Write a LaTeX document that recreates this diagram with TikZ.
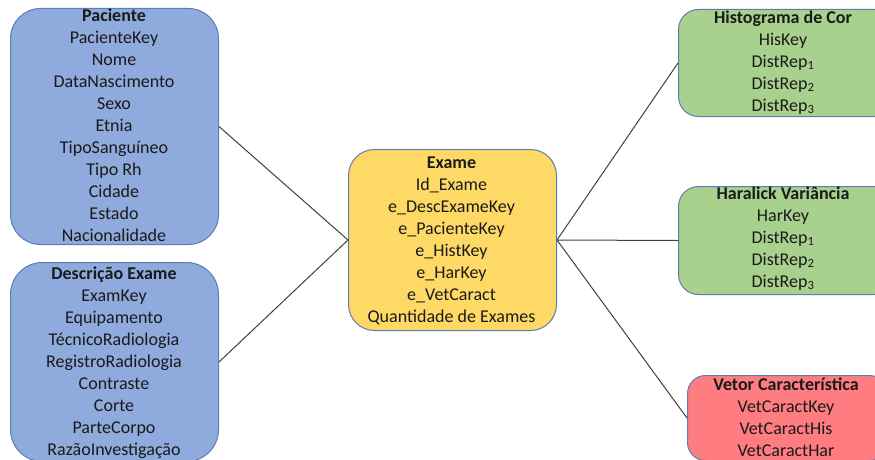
\documentclass[tikz,border=0pt]{standalone}
\usepackage{fontspec}
\setmainfont{Carlito}
\definecolor{bluefill}{HTML}{8FAADC}
\definecolor{yellowfill}{HTML}{FFD966}
\definecolor{greenfill}{HTML}{A9D18E}
\definecolor{redfill}{HTML}{FF7C80}
\definecolor{edgecol}{HTML}{5B7DB1}
\definecolor{linecol}{HTML}{404040}
\definecolor{txtcol}{HTML}{1A1A1A}
\begin{document}
\begin{tikzpicture}[x=1pt,y=-1pt,
  tbl/.style={draw=edgecol, line width=1pt, inner sep=0pt, anchor=north west},
  txt/.style={align=center, inner sep=0pt, anchor=base, text=txtcol,
    font=\fontsize{18}{22}\selectfont},
  link/.style={draw=linecol, line width=1pt}]
\useasboundingbox (0,0) rectangle (875,460);
\clip (0,0) rectangle (875,460);
% boxes
\node[tbl, fill=bluefill, rounded corners=30pt, minimum width=208pt, minimum height=236pt] (pac) at (10,8) {};
\node[tbl, fill=bluefill, rounded corners=32pt, minimum width=208pt, minimum height=199pt] (desc) at (10,262) {};
\node[tbl, fill=yellowfill, rounded corners=26pt, minimum width=208pt, minimum height=181pt] (exa) at (348,149) {};
\node[tbl, fill=greenfill, rounded corners=20pt, minimum width=216pt, minimum height=107pt] (his) at (678,9) {};
\node[tbl, fill=greenfill, rounded corners=20pt, minimum width=216pt, minimum height=108pt] (har) at (678,186) {};
\node[tbl, fill=redfill, rounded corners=18pt, minimum width=200pt, minimum height=85pt] (vet) at (687,375) {};
% texts (anchored at the baseline of the last line)
\node[txt] (pact) at (114,241.5) {\textbf{Paciente}\\PacienteKey\\Nome\\DataNascimento\\Sexo\\Etnia\\TipoSanguíneo\\Tipo Rh\\Cidade\\Estado\\Nacionalidade};
\node[txt] (desct) at (114,455) {\textbf{Descrição Exame}\\ExamKey\\Equipamento\\TécnicoRadiologia\\RegistroRadiologia\\Contraste\\Corte\\ParteCorpo\\RazãoInvestigação};
\node[txt] (exat) at (451.5,322) {\textbf{Exame}\\Id\_Exame\\e\_DescExameKey\\e\_PacienteKey\\e\_HistKey\\e\_HarKey\\e\_VetCaract\\Quantidade de Exames};
\node[txt] (hist) at (783,111) {\textbf{Histograma de Cor}\\HisKey\\DistRep\textsubscript{1}\\DistRep\textsubscript{2}\\DistRep\textsubscript{3}};
\node[txt] (hart) at (783,287) {\textbf{Haralick Variância}\\HarKey\\DistRep\textsubscript{1}\\DistRep\textsubscript{2}\\DistRep\textsubscript{3}};
\node[txt] (vett) at (786,456) {\textbf{Vetor Característica}\\VetCaractKey\\VetCaractHis\\VetCaractHar};
% connectors
\draw[link] (pac.east) -- (exa.west);
\draw[link] (desc.east) -- (exa.west);
\draw[link] (exa.east) -- (his.west);
\draw[link] (exa.east) -- (har.west);
\draw[link] (exa.east) -- (vet.west);
\end{tikzpicture}
\end{document}
